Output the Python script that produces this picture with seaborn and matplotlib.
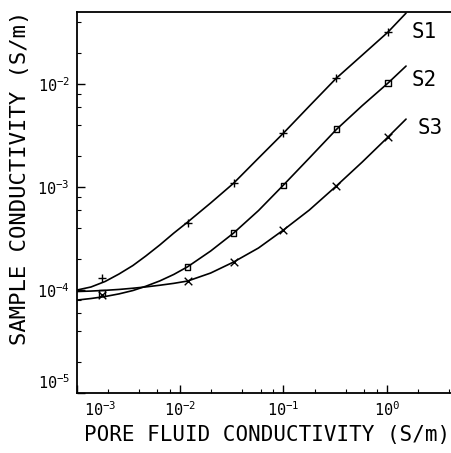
import matplotlib
matplotlib.use("Agg")
import matplotlib.pyplot as plt
import matplotlib.ticker as mticker
import matplotlib.transforms as mtransforms
import seaborn as sns
import pandas as pd

# ---- data ----
samples = ["S1", "S2", "S3"]

# measured points (pore fluid conductivity, S/m) -> sample conductivity (S/m)
meas_x = [1.75e-3, 1.18e-2, 3.29e-2, 0.100, 0.325, 1.03]
meas_s1 = [1.31e-4, 4.45e-4, 1.09e-3, 3.34e-3, 1.14e-2, 3.20e-2]
meas_s2 = [9.35e-5, 1.67e-4, 3.57e-4, 1.04e-3, 3.66e-3, 1.02e-2]
meas_s3 = [8.9e-5, 1.22e-4, 1.87e-4, 3.83e-4, 1.02e-3, 3.06e-3]

# model curves
curve_x = [1.00e-3, 1.365e-3, 1.87e-3, 2.55e-3, 3.48e-3, 4.64e-3, 6.34e-3, 8.66e-3,
           1.18e-2, 1.97e-2, 3.29e-2, 5.73e-2, 0.100, 0.178, 0.325, 0.579, 1.03, 1.54]
curve_s1 = [1.00e-4, 1.07e-4, 1.21e-4, 1.43e-4, 1.73e-4, 2.14e-4, 2.74e-4, 3.57e-4,
            4.57e-4, 7.00e-4, 1.09e-3, 1.91e-3, 3.34e-3, 6.11e-3, 1.14e-2, 1.91e-2,
            3.20e-2, 4.89e-2]
curve_s2 = [7.99e-5, 8.27e-5, 8.65e-5, 9.17e-5, 9.89e-5, 1.088e-4, 1.226e-4, 1.417e-4,
            1.683e-4, 2.391e-4, 3.576e-4, 5.91e-4, 1.046e-3, 1.913e-3, 3.617e-3, 6.17e-3,
            1.023e-2, 1.496e-2]
curve_s3 = [9.67e-5, 9.77e-5, 9.93e-5, 1.013e-4, 1.041e-4, 1.072e-4, 1.113e-4, 1.161e-4,
            1.223e-4, 1.462e-4, 1.871e-4, 2.56e-4, 3.83e-4, 5.98e-4, 1.023e-3, 1.748e-3,
            3.06e-3, 4.57e-3]

label_x = [1.76, 1.76, 2.0]
label_y = [3.24e-2, 1.09e-2, 3.74e-3]

x_ticks = [1e-3, 1e-2, 1e-1, 1e0]
y_ticks = [1e-5, 1e-4, 1e-3, 1e-2]

# ---- build tables ----
curves = pd.DataFrame({
    "x": curve_x * 3,
    "y": curve_s1 + curve_s2 + curve_s3,
    "sample": sum([[s] * len(curve_x) for s in samples], []),
})
meas = pd.DataFrame({
    "x": meas_x * 3,
    "y": meas_s1 + meas_s2 + meas_s3,
    "sample": sum([[s] * len(meas_x) for s in samples], []),
})

sns.set_theme(style="ticks")
FONT = ["DejaVu Sans Mono", "DejaVu Sans"]
plt.rcParams["font.family"] = FONT
plt.rcParams["mathtext.fontset"] = "custom"
plt.rcParams["mathtext.rm"] = "DejaVu Sans Mono"
plt.rcParams["mathtext.it"] = "DejaVu Sans Mono"
plt.rcParams["mathtext.bf"] = "DejaVu Sans Mono:bold"

fig = plt.figure(figsize=(4.52, 4.53), dpi=100)
ax = fig.add_axes([77 / 452, 60 / 453, 374 / 452, 381 / 453])

sns.lineplot(data=curves, x="x", y="y", units="sample", estimator=None,
             color="black", lw=1.2, sort=False, ax=ax)

for s in samples:
    d = meas[meas["sample"] == s]
    if s == "S2":
        sns.scatterplot(x=d["x"], y=d["y"], marker="s", s=16, facecolor="none",
                        edgecolor="black", linewidth=1.0, zorder=3, ax=ax)
    elif s == "S1":
        sns.scatterplot(x=d["x"], y=d["y"], marker="+", s=36, color="black",
                        linewidth=1.0, zorder=3, ax=ax)
    else:
        sns.scatterplot(x=d["x"], y=d["y"], marker="x", s=30, color="black",
                        linewidth=1.0, zorder=3, ax=ax)

ax.set_xscale("log")
ax.set_yscale("log")
ax.set_xlim(1e-3, 10 ** 0.623)
ax.set_ylim(1e-5, 10 ** -1.30)

ax.xaxis.set_major_locator(mticker.FixedLocator(x_ticks))
ax.yaxis.set_major_locator(mticker.FixedLocator(y_ticks))
ax.xaxis.set_minor_locator(mticker.LogLocator(base=10, subs=[2, 4, 6, 8]))
ax.yaxis.set_minor_locator(mticker.LogLocator(base=10, subs=[2, 4, 6, 8]))
ax.xaxis.set_minor_formatter(mticker.NullFormatter())
ax.yaxis.set_minor_formatter(mticker.NullFormatter())
ax.xaxis.set_major_formatter(mticker.LogFormatterMathtext())
ax.yaxis.set_major_formatter(mticker.LogFormatterMathtext())

ax.tick_params(which="major", direction="in", length=6, width=1.0,
               labelsize=11, color="black", labelcolor="black", pad=5)
ax.tick_params(which="minor", direction="in", length=3, width=0.8, color="black")
ax.tick_params(axis="y", which="both", right=False)
ax.tick_params(axis="x", which="both", top=False)

for side in ["left", "bottom", "top"]:
    ax.spines[side].set_color("black")
    ax.spines[side].set_linewidth(1.3)
ax.spines["right"].set_visible(False)

# shift corner labels away from the corner, as in the reference
fig.canvas.draw()
xl = ax.get_xticklabels()
xl[0].set_transform(xl[0].get_transform() + mtransforms.ScaledTranslation(0.23, 0, fig.dpi_scale_trans))
yl = ax.get_yticklabels()
yl[0].set_transform(yl[0].get_transform() + mtransforms.ScaledTranslation(0, 0.12, fig.dpi_scale_trans))

ax.set_xlabel("PORE FLUID CONDUCTIVITY (S/m)", fontsize=15, color="black")
ax.set_ylabel("SAMPLE CONDUCTIVITY (S/m)", fontsize=16, color="black")
ax.xaxis.set_label_coords(0.508, -0.083)
ax.yaxis.set_label_coords(-0.125, 0.564)

for s, xv, yv in zip(samples, label_x, label_y):
    ax.text(xv, yv, s, fontsize=15, color="black", va="center", ha="left")

ax.set_facecolor("white")
fig.patch.set_facecolor("white")
fig.savefig("out.png", dpi=100, facecolor="white")
